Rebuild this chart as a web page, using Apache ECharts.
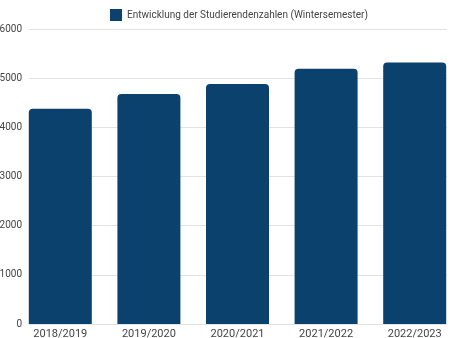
<!DOCTYPE html>
<html>
<head>
<meta charset="utf-8">
<script src="https://cdn.jsdelivr.net/npm/echarts@6/dist/echarts.min.js"></script>
<style>
  html, body { margin: 0; padding: 0; background: #fff; }
  #chart { width: 451px; height: 338px; }
</style>
</head>
<body>
<div id="chart"></div>
<script>
// Studierendenzahlen je Wintersemester
const semesters = ['2018/2019', '2019/2020', '2020/2021', '2021/2022', '2022/2023'];
const students = [4380, 4680, 4880, 5190, 5320];
const seriesName = 'Entwicklung der Studierendenzahlen (Wintersemester)';
const yTicks = { min: 0, max: 6000, interval: 1000 };

const font = 'Roboto, "Noto Sans", sans-serif';
const barColor = '#0b416d';

const chart = echarts.init(document.getElementById('chart'));
chart.setOption({
  animation: false,
  textStyle: { fontFamily: font },
  legend: {
    top: 9,
    left: 110,
    padding: 0,
    itemWidth: 12,
    itemHeight: 12,
    itemGap: 6,
    icon: 'rect',
    textStyle: { fontSize: 10, color: '#444', fontFamily: font, padding: [0, 0, 0, 0] },
    data: [seriesName]
  },
  grid: [
    // value axis grid with the horizontal gridlines
    { left: 29, right: 4, top: 29, bottom: 14, outerBoundsMode: 'none', containLabel: false },
    // bar grid, bands run flush to the outer bars
    { left: 16, right: -8, top: 29, bottom: 14, outerBoundsMode: 'none', containLabel: false }
  ],
  xAxis: [
    { gridIndex: 0, type: 'category', data: semesters, show: false },
    {
      gridIndex: 1, type: 'category', data: semesters,
      axisLine: { show: false },
      axisTick: { show: false },
      axisLabel: { color: '#444', fontSize: 11, margin: 5, fontFamily: font }
    }
  ],
  yAxis: [
    {
      gridIndex: 0, type: 'value',
      min: yTicks.min, max: yTicks.max, interval: yTicks.interval,
      axisLine: { show: false },
      axisTick: { show: false },
      axisLabel: { color: '#444', fontSize: 10, margin: 7, fontFamily: font,
        formatter: (v) => String(v) },
      splitLine: { lineStyle: { color: '#e3e3e3', width: 1 } }
    },
    {
      gridIndex: 1, type: 'value',
      min: yTicks.min, max: yTicks.max, interval: yTicks.interval,
      show: false, splitLine: { show: false }
    }
  ],
  series: [{
    name: seriesName,
    type: 'bar',
    xAxisIndex: 1,
    yAxisIndex: 1,
    data: students,
    barWidth: 63,
    itemStyle: { color: barColor, borderRadius: [4, 4, 0, 0] }
  }]
});
</script>
</body>
</html>
